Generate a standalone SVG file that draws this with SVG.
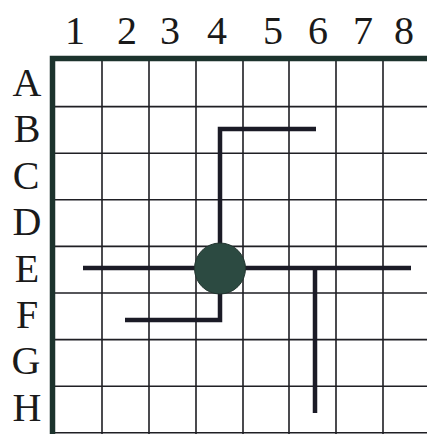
<svg xmlns="http://www.w3.org/2000/svg" width="427" height="434" viewBox="0 0 427 434">
<style>
.lbl{font-family:"Liberation Serif","Times New Roman",serif;font-size:40px;fill:#1a1a1a;text-anchor:middle}
.g{stroke:#1f1f24;stroke-width:1.6;fill:none}
.w{stroke:#1b1b26;stroke-width:4.5;fill:none;stroke-linecap:butt;stroke-linejoin:miter}
</style>
<rect width="427" height="434" fill="#ffffff"/>
<g id="labels">
<text class="lbl" x="75" y="44">1</text>
<text class="lbl" x="127" y="44">2</text>
<text class="lbl" x="170" y="44">3</text>
<text class="lbl" x="217" y="44">4</text>
<text class="lbl" x="273" y="44">5</text>
<text class="lbl" x="318" y="44">6</text>
<text class="lbl" x="363" y="44">7</text>
<text class="lbl" x="404" y="44">8</text>
<text class="lbl" x="27" y="96">A</text>
<text class="lbl" x="27" y="142">B</text>
<text class="lbl" x="26" y="189">C</text>
<text class="lbl" x="27" y="235">D</text>
<text class="lbl" x="27" y="282">E</text>
<text class="lbl" x="27" y="328">F</text>
<text class="lbl" x="26" y="374">G</text>
<text class="lbl" x="27" y="421">H</text>
</g>
<g id="grid">
<path class="g" d="M102 58V434M149 58V434M196 58V434M243 58V434M289 58V434M336 58V434M383 58V434"/>
<path class="g" d="M52 106.6H427M52 153.2H427M52 199.8H427M52 246.4H427M52 293H427M52 339.6H427M52 386.2H427M52 432.8H427"/>
<path d="M52.5 434V58.5H427" fill="none" stroke="#1c332d" stroke-width="5.5"/>
</g>
<g id="connectors">
<path class="w" d="M220 268V129H316"/>
<path class="w" d="M83 268H411"/>
<path class="w" d="M220 268V320H125"/>
<path class="w" d="M315 266V413"/>
</g>
<g id="hub">
<circle cx="220" cy="268.5" r="25.5" fill="#2c4a41" stroke="#22352f" stroke-width="1"/>
</g>
</svg>
